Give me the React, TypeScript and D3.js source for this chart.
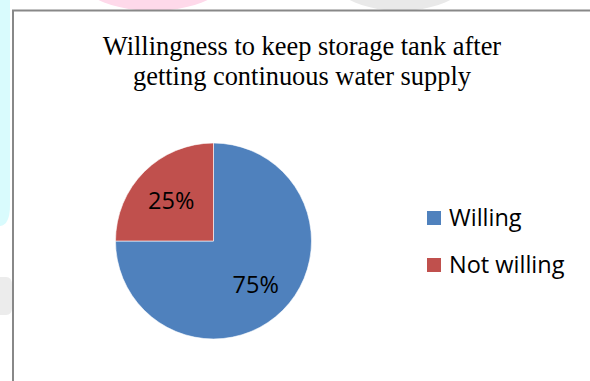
import React from "react";
import * as d3 from "d3";

const categories: string[] = ["Willing", "Not willing"];
const shares: number[] = [75, 25];
const sliceColors: string[] = ["#4F81BD", "#C0504D"];
const titleLines: string[] = [
  "Willingness to keep storage tank after",
  "getting continuous water supply",
];

const W = 590;
const H = 381;

export default function App() {
  const cx = 213.5;
  const cy = 241;
  const radius = 98;

  const pie = d3
    .pie<number>()
    .sort(null)
    .value((d) => d)
    .startAngle(0)
    .endAngle(2 * Math.PI);
  const arcs = pie(shares);
  const arcGen = d3.arc<d3.PieArcDatum<number>>().innerRadius(0).outerRadius(radius);
  const labelArc = d3
    .arc<d3.PieArcDatum<number>>()
    .innerRadius(radius * 0.61)
    .outerRadius(radius * 0.61);
  const total = d3.sum(shares);

  const legendY = d3.scalePoint<string>().domain(categories).range([218, 265]);

  return (
    <svg
      width={W}
      height={H}
      viewBox={`0 0 ${W} ${H}`}
      style={{ position: "absolute", left: 0, top: 0, background: "#fff" }}
    >
      {/* faint background shapes around the frame */}
      <path d="M0,0 H10 V205 Q10,225 0,226 Z" fill="#d9fbfd" />
      <ellipse cx={153} cy={-40} rx={88} ry={51} fill="#fed9ea" />
      <ellipse cx={400} cy={-40} rx={81} ry={51} fill="#e9e9e9" />
      <path d="M0,277 H6 Q12,277 12,285 V308 Q12,315 6,315 H0 Z" fill="#ececec" />

      {/* chart frame */}
      <rect x={13} y={10.5} width={W} height={H} fill="#fff" stroke="#888" strokeWidth={2} />

      <g fontFamily="'Liberation Serif', 'Times New Roman', serif" fontSize={26.4} fill="#000" textAnchor="middle">
        {titleLines.map((line, i) => (
          <text key={i} x={302} y={55 + i * 30}>
            {line}
          </text>
        ))}
      </g>

      <g transform={`translate(${cx},${cy})`}>
        {arcs.map((a, i) => (
          <path key={i} d={arcGen(a) || ""} fill={sliceColors[i]} stroke="#fff" strokeWidth={0.6} />
        ))}
        {arcs.map((a, i) => {
          const [lx, ly] = labelArc.centroid(a);
          return (
            <text
              key={`l${i}`}
              x={lx}
              y={ly + 2}
              dy="0.35em"
              textAnchor="middle"
              fontFamily="'Open Sans', sans-serif"
              fontSize={23.5}
              fill="#000"
            >
              {`${Math.round((a.data / total) * 100)}%`}
            </text>
          );
        })}
      </g>

      <g fontFamily="'Open Sans', sans-serif" fontSize={23.5} fill="#000">
        {categories.map((c, i) => {
          const y = legendY(c) as number;
          return (
            <g key={c}>
              <rect x={427} y={y - 7} width={14} height={14} fill={sliceColors[i]} />
              <text x={449} y={y} dy="0.35em">
                {c}
              </text>
            </g>
          );
        })}
      </g>
    </svg>
  );
}
